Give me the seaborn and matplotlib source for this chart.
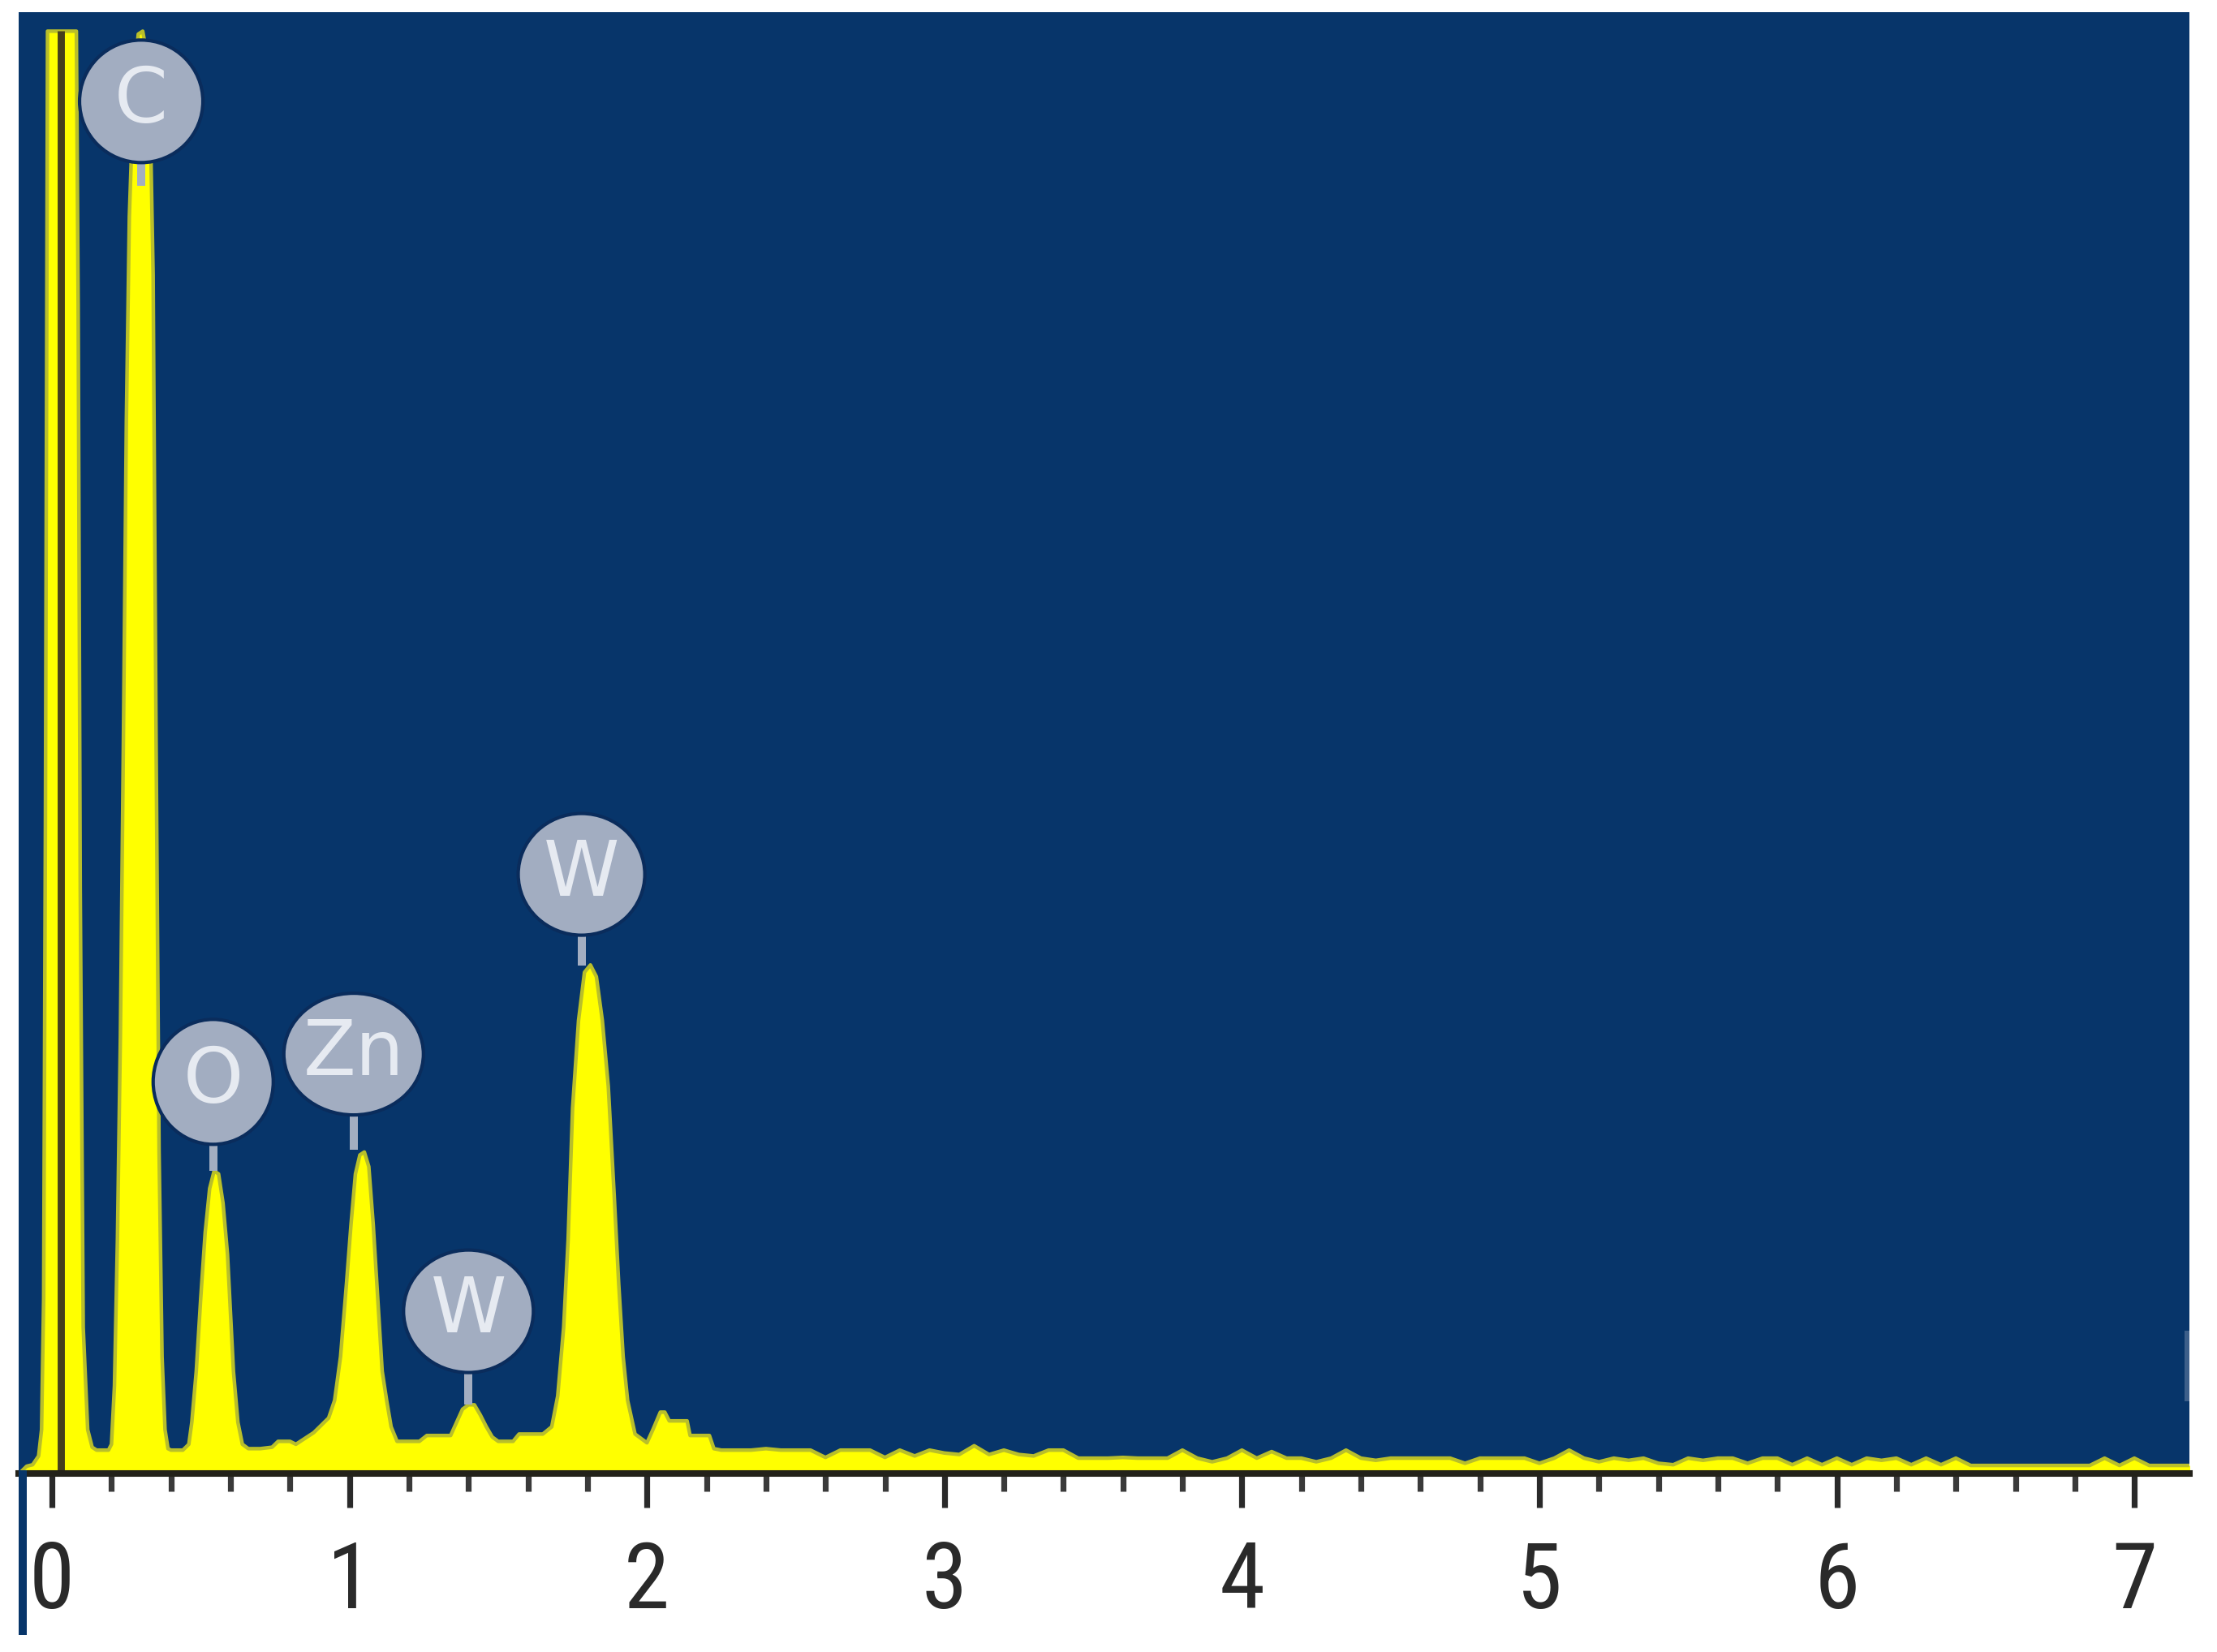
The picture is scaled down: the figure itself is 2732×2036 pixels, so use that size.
import matplotlib
matplotlib.use("Agg")
import matplotlib.pyplot as plt
from matplotlib.patches import Ellipse, Rectangle
import seaborn as sns
import numpy as np

# ---------------- data ----------------
# energy in keV, counts normalised to the plot height (1.0 = top of plot)
energy_peaks = [
    -0.11, -0.085, -0.065, -0.045, -0.035, -0.028, -0.022, -0.015, 0.0, 0.03,
    0.06, 0.082, 0.088, 0.095, 0.105, 0.12, 0.135, 0.15, 0.17, 0.19,
    0.20, 0.21, 0.22, 0.23, 0.24, 0.25, 0.26, 0.275, 0.29, 0.305,
    0.32, 0.33, 0.34, 0.35, 0.36, 0.37, 0.38, 0.39, 0.40, 0.42,
    0.44, 0.46, 0.47, 0.485, 0.50, 0.515, 0.53, 0.545, 0.56, 0.575,
    0.59, 0.60, 0.61, 0.625, 0.64, 0.66, 0.70, 0.74, 0.76, 0.80,
    0.82, 0.85, 0.88, 0.91, 0.93, 0.95, 0.97, 0.99, 1.005, 1.02,
    1.035, 1.05, 1.065, 1.08, 1.095, 1.11, 1.125, 1.14, 1.16, 1.20,
    1.235, 1.26, 1.30, 1.34, 1.36, 1.38, 1.40, 1.42, 1.44, 1.46,
    1.48, 1.50, 1.55, 1.57, 1.62, 1.65, 1.68, 1.70, 1.72, 1.735,
    1.75, 1.77, 1.79, 1.81, 1.83, 1.85, 1.87, 1.89, 1.905, 1.92,
    1.935, 1.96, 2.00, 2.02, 2.045, 2.06, 2.075, 2.135, 2.145, 2.21,
    2.225,
]
counts_peaks = [
    0.0, 0.005, 0.006, 0.012, 0.03, 0.12, 0.45, 0.987, 0.987, 0.987,
    0.987, 0.987, 0.80, 0.40, 0.10, 0.03, 0.018, 0.016, 0.016, 0.016,
    0.02, 0.06, 0.16, 0.30, 0.50, 0.72, 0.86, 0.95, 0.985, 0.987,
    0.97, 0.93, 0.82, 0.50, 0.22, 0.08, 0.03, 0.017, 0.016, 0.016,
    0.016, 0.02, 0.035, 0.07, 0.12, 0.165, 0.195, 0.207, 0.205, 0.185,
    0.15, 0.11, 0.07, 0.035, 0.02, 0.017, 0.017, 0.018, 0.022, 0.022,
    0.02, 0.024, 0.028, 0.034, 0.038, 0.05, 0.08, 0.13, 0.17, 0.205,
    0.218, 0.22, 0.21, 0.17, 0.12, 0.07, 0.05, 0.032, 0.022, 0.022,
    0.022, 0.026, 0.026, 0.026, 0.035, 0.044, 0.047, 0.047, 0.04, 0.032,
    0.025, 0.022, 0.022, 0.027, 0.027, 0.027, 0.032, 0.053, 0.10, 0.16,
    0.25, 0.31, 0.343, 0.348, 0.34, 0.31, 0.265, 0.19, 0.13, 0.08,
    0.05, 0.027, 0.021, 0.03, 0.042, 0.042, 0.036, 0.036, 0.026, 0.026,
    0.017,
]
energy_tail = [
    2.25, 2.30, 2.35, 2.40, 2.45, 2.50, 2.55, 2.60, 2.65, 2.70,
    2.75, 2.80, 2.85, 2.90, 2.95, 3.00, 3.05, 3.10, 3.15, 3.20,
    3.25, 3.30, 3.35, 3.40, 3.45, 3.50, 3.55, 3.60, 3.65, 3.70,
    3.75, 3.80, 3.85, 3.90, 3.95, 4.00, 4.05, 4.10, 4.15, 4.20,
    4.25, 4.30, 4.35, 4.40, 4.45, 4.50, 4.55, 4.60, 4.65, 4.70,
    4.75, 4.80, 4.85, 4.90, 4.95, 5.00, 5.05, 5.10, 5.15, 5.20,
    5.25, 5.30, 5.35, 5.40, 5.45, 5.50, 5.55, 5.60, 5.65, 5.70,
    5.75, 5.80, 5.85, 5.90, 5.95, 6.00, 6.05, 6.10, 6.15, 6.20,
    6.25, 6.30, 6.35, 6.40, 6.45, 6.50, 6.55, 6.60, 6.65, 6.70,
    6.75, 6.80, 6.85, 6.90, 6.95, 7.00, 7.05, 7.10, 7.15, 7.19,
]
counts_tail = [
    0.016, 0.016, 0.016, 0.017, 0.016, 0.016, 0.016, 0.011, 0.016, 0.016,
    0.016, 0.011, 0.016, 0.012, 0.016, 0.014, 0.013, 0.019, 0.013, 0.016,
    0.013, 0.012, 0.016, 0.016, 0.0105, 0.0105, 0.0105, 0.011, 0.0105, 0.0105,
    0.0105, 0.016, 0.0105, 0.008, 0.0105, 0.016, 0.0105, 0.015, 0.0105, 0.0105,
    0.008, 0.0105, 0.016, 0.0105, 0.009, 0.0105, 0.0105, 0.0105, 0.0105, 0.0105,
    0.007, 0.0105, 0.0105, 0.0105, 0.0105, 0.007, 0.0105, 0.016, 0.0105, 0.008,
    0.0105, 0.009, 0.0105, 0.007, 0.006, 0.0105, 0.009, 0.0105, 0.0105, 0.007,
    0.0105, 0.0105, 0.006, 0.0105, 0.006, 0.0105, 0.006, 0.0105, 0.009, 0.0105,
    0.006, 0.0105, 0.006, 0.0105, 0.0055, 0.0055, 0.0055, 0.0055, 0.0055, 0.0055,
    0.0055, 0.0055, 0.0055, 0.0105, 0.0055, 0.0105, 0.0055, 0.0055, 0.0055, 0.0055,
]

# element labels
label_names = ["C", "O", "Zn", "W", "W"]
label_x = [0.30, 0.542, 1.014, 1.40, 1.78]
label_y = [0.939, 0.268, 0.287, 0.111, 0.41]
label_stem_end = [0.881, 0.207, 0.2215, 0.047, 0.3475]
label_w_px = [152, 148, 172, 160, 156]
label_h_px = [151, 154, 150, 151, 150]

zero_marker_keV = 0.03
x_ticks_major = [0, 1, 2, 3, 4, 5, 6, 7]
x_tick_labels = ["0", "1", "2", "3", "4", "5", "6", "7"]
x_min, x_max = -0.112, 7.185

# ---------------- style ----------------
W_PX, H_PX, DPI = 2732, 2036, 200
BLUE = "#07356a"
YELLOW = "#ffff00"

sns.set_theme(style="white")
plt.rcParams["font.family"] = ["DejaVu Sans"]

fig = plt.figure(figsize=(W_PX / DPI, H_PX / DPI), dpi=DPI)
fig.patch.set_facecolor("white")

ax_left, ax_right = 23, 2698
ax_top, ax_bottom = 15, 1816
ax = fig.add_axes([ax_left / W_PX, (H_PX - ax_bottom) / H_PX,
                   (ax_right - ax_left) / W_PX, (ax_bottom - ax_top) / H_PX])
ax.set_facecolor(BLUE)

energy = energy_peaks + energy_tail
counts = counts_peaks + counts_tail

ax.fill_between(energy, 0, counts, color=YELLOW, lw=0, zorder=2)
sns.lineplot(x=energy, y=counts, ax=ax, color="#b9bf2a", lw=1.6,
             estimator=None, sort=False, zorder=3)

# dark zero-energy marker line
ax.plot([zero_marker_keV, zero_marker_keV], [0, 0.987], color="#463f1c",
        lw=3.2, solid_capstyle="butt", zorder=4)

ax.set_xlim(x_min, x_max)
ax.set_ylim(0, 1)

px_per_keV = (ax_right - ax_left) / (x_max - x_min)
px_per_unit = (ax_bottom - ax_top) / 1.0

# element labels
for name, lx, ly, ls, wpx, hpx in zip(label_names, label_x, label_y,
                                      label_stem_end, label_w_px, label_h_px):
    ax.plot([lx, lx], [ly, ls], color="#a3aec1", lw=3.6,
            solid_capstyle="butt", zorder=5)
    e = Ellipse((lx, ly), width=wpx / px_per_keV, height=hpx / px_per_unit,
                facecolor="#a2adc1", edgecolor="#0a2c5c", lw=1.5, zorder=6)
    ax.add_patch(e)
    ax.text(lx, ly, name, color="#e6eaf1", fontsize=34, ha="center",
            va="center", zorder=7, family=["DejaVu Sans"])

# axis styling
for s in ["top", "left", "right"]:
    ax.spines[s].set_visible(False)
ax.spines["bottom"].set_color("#23221a")
ax.spines["bottom"].set_linewidth(2.9)
ax.spines["bottom"].set_zorder(8)

ax.set_xticks(x_ticks_major)
ax.set_xticklabels(x_tick_labels)
ax.set_xticks(np.round(np.arange(0, 7.2, 0.2), 2), minor=True)
ax.set_yticks([])
ax.tick_params(axis="x", which="both", bottom=True, top=False)
ax.tick_params(axis="x", which="major", direction="out", length=15,
               width=2.6, color="#2a2a2a", pad=14, labelsize=41,
               labelcolor="#2a2a2a")
ax.tick_params(axis="x", which="minor", direction="out", length=8,
               width=2.6, color="#3a3a3a")
for t in ax.get_xticklabels():
    t.set_family(["Liberation Sans Narrow", "Roboto Condensed",
                  "PT Sans Narrow", "DejaVu Sans"])
ax.grid(False)

# blue strip continuing the left border below the axis
fig.patches.append(Rectangle((23 / W_PX, (H_PX - 2015) / H_PX), 10 / W_PX,
                             (2015 - 1812) / H_PX, transform=fig.transFigure,
                             facecolor=BLUE, edgecolor="none", zorder=0))
# small scroll mark at right edge
fig.patches.append(Rectangle((2692 / W_PX, (H_PX - 1727) / H_PX), 6 / W_PX,
                             87 / H_PX, transform=fig.transFigure,
                             facecolor="#3d5f8a", edgecolor="none", zorder=10))

fig.savefig("out.png", dpi=DPI, facecolor="white")
